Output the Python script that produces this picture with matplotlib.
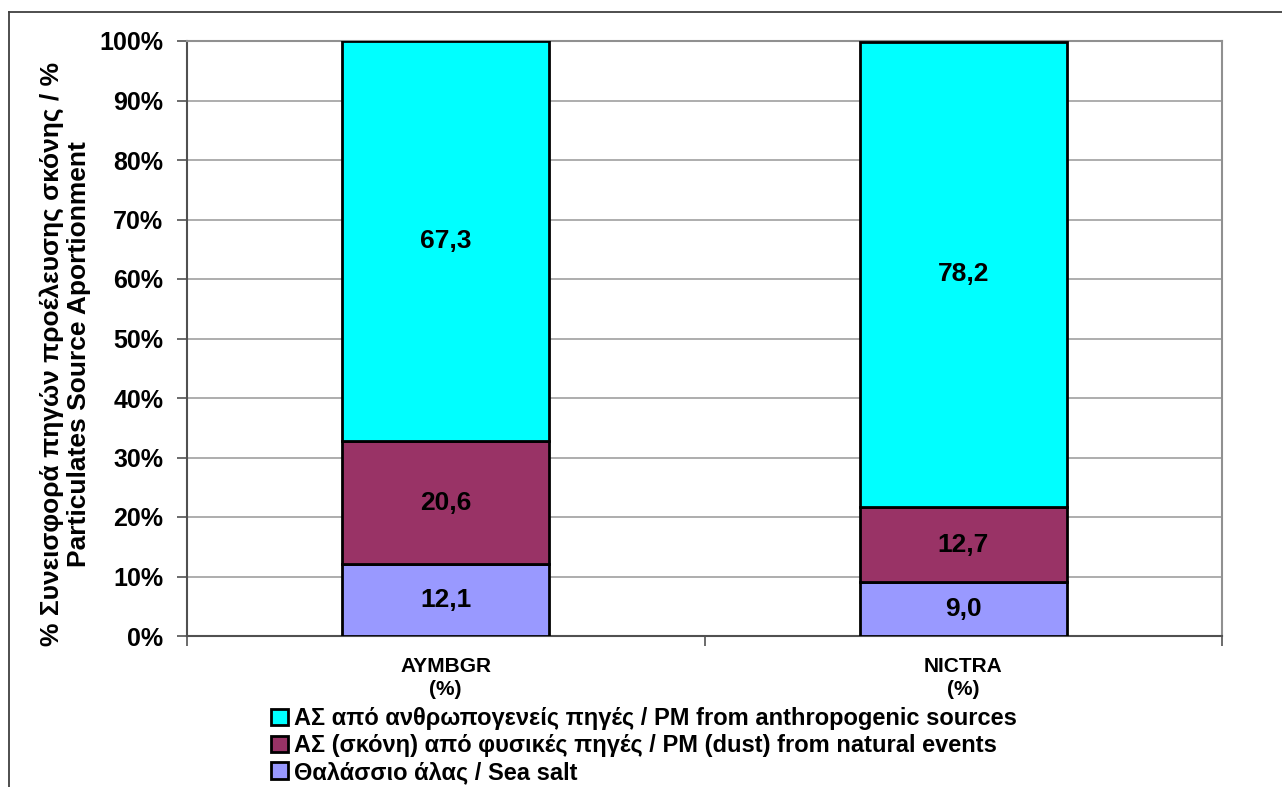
import numpy as np
import matplotlib
matplotlib.use("Agg")
import matplotlib.pyplot as plt
from matplotlib.patches import Rectangle
from matplotlib.lines import Line2D

plt.rcParams['font.family'] = ['Liberation Sans', 'DejaVu Sans']
plt.rcParams['font.weight'] = 'bold'

stations = ["AYMBGR\n(%)", "NICTRA\n(%)"]
sea_salt = [12.1, 9.0]
natural_dust = [20.6, 12.7]
anthropogenic = [67.3, 78.2]
labels = ["ΑΣ από ανθρωπογενείς πηγές / PM from anthropogenic sources",
          "ΑΣ (σκόνη) από φυσικές πηγές / PM (dust) from natural events",
          "Θαλάσσιο άλας / Sea salt"]
colors = ["#00FFFF", "#993366", "#9999FF"]
yticks = [0, 10, 20, 30, 40, 50, 60, 70, 80, 90, 100]

fig = plt.figure(figsize=(12.82, 7.87), dpi=100)
ax = fig.add_axes([187/1282, 1-636/787, (1222-187)/1282, 595/787])

# outer chart frame (top and left only visible in the picture)
fig.add_artist(Line2D([9/1282, 1], [1-12/787, 1-12/787], color="#404040", lw=1.3))
fig.add_artist(Line2D([9/1282, 9/1282], [0, 1-12/787], color="#404040", lw=1.3))

x = np.arange(len(stations)) + 0.5
series = [sea_salt, natural_dust, anthropogenic]
cols = [colors[2], colors[1], colors[0]]
bottom = np.zeros(len(stations))
for vals, c in zip(series, cols):
    ax.bar(x, vals, 0.4, bottom=bottom, color=c, edgecolor="black",
           linewidth=2, zorder=3)
    for xi, b, v in zip(x, bottom, vals):
        ax.text(xi, b + v / 2, f"{v:.1f}".replace(".", ","), ha="center",
                va="center", fontsize=19, fontweight="bold", zorder=4)
    bottom = bottom + np.array(vals)

ax.set_xlim(0, 2)
ax.set_ylim(0, 100)
ax.set_yticks(yticks)
ax.set_yticklabels([f"{t}%" for t in yticks], fontsize=18, fontweight="bold")
ax.yaxis.grid(True, color="#a0a0a0", lw=1.2, zorder=0)
ax.set_xticks([0, 1, 2])
ax.set_xticklabels([])
ax.set_xticks(x, minor=True)
ax.set_xticklabels(stations, minor=True, fontsize=15, fontweight="bold",
                   linespacing=1.3)
ax.tick_params(axis="x", which="minor", length=0, pad=15)
ax.tick_params(axis="x", which="major", length=7, width=1.3, color="#606060",
               direction="out")
ax.tick_params(axis="y", length=7, width=1.3, color="#606060", pad=10)
for s in ["top", "right"]:
    ax.spines[s].set_color("#909090")
    ax.spines[s].set_linewidth(1.5)
for s in ["left", "bottom"]:
    ax.spines[s].set_color("#505050")
    ax.spines[s].set_linewidth(1.5)

ax.set_ylabel("% Συνεισφορά πηγών προέλευσης σκόνης / %\nParticulates Source Aportionment",
              fontsize=19, fontweight="bold", linespacing=1.15)
ax.yaxis.set_label_coords(-0.093, 0.474)

leg_handles = [Rectangle((0, 0), 1, 1, facecolor=c, edgecolor="black", lw=2)
               for c in colors]
fig.legend(leg_handles, labels, loc="upper left",
           bbox_to_anchor=(262/1282, 1-698/787), frameon=False,
           handlelength=0.7, handleheight=0.7,
           handletextpad=0.25, labelspacing=0.16, borderaxespad=0,
           prop={"weight": "bold", "size": 17})

fig.savefig("out.png", dpi=100)
